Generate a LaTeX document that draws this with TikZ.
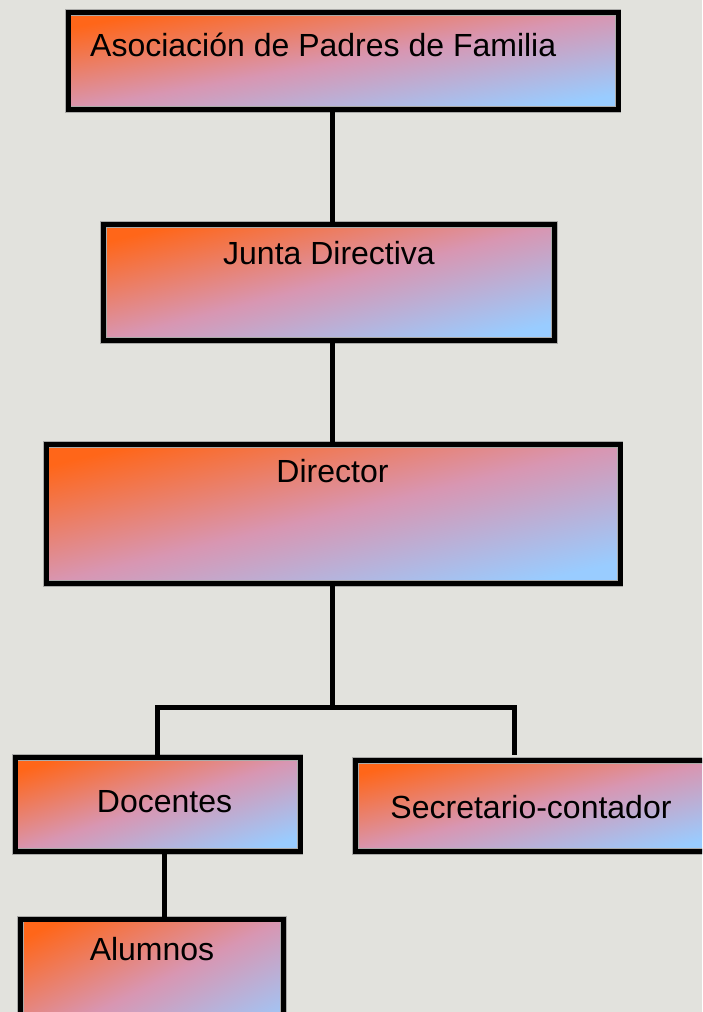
\documentclass[tikz,border=0pt]{standalone}
\usepackage{fontspec}
\setmainfont{Liberation Sans}
\definecolor{bg}{RGB}{226,226,221}
\definecolor{halo}{RGB}{170,170,168}
\definecolor{gorange}{RGB}{255,102,25}
\definecolor{gblue}{RGB}{153,204,255}
\definecolor{gmid}{RGB}{216,150,178}
\newcommand{\gradbox}[5]{%
  \begin{scope}[transform canvas={shift={(#2,#3)}, xscale=#4/2, yscale=#5/2}]
    \clip (-1,-1) rectangle (1,1);
    \shade[gshade] (-1.2,-1.2) rectangle (1.2,1.2);
  \end{scope}
  \node[box, minimum width=#4pt, minimum height=#5pt] (#1) at (#2,#3) {};
}
\begin{document}
\begin{tikzpicture}[x=1pt,y=1pt,
  gshade/.style={top color=gorange, bottom color=gblue, middle color=gmid, shading angle=45},
  box/.style={draw=black, line width=5pt, rectangle, inner sep=0pt,
    preaction={draw=halo, line width=6.5pt}},
  lbl/.style={font=\fontsize{32}{36}\selectfont, anchor=base, inner sep=0pt},
  conn/.style={line width=5pt}]
\fill[bg] (0,0) rectangle (702,1012);
\useasboundingbox (0,0) rectangle (702,1012);
\clip (0,0) rectangle (702,1012);
% boxes
\gradbox{b1}{343}{951}{550}{97}
\gradbox{b2}{329}{729.5}{451}{116}
\gradbox{b3}{333}{498}{574}{139}
\gradbox{b4}{157.5}{207.5}{285}{94}
\gradbox{b5}{536.5}{206}{362}{91}
\gradbox{b6}{152}{27.75}{263}{130}
% connector points
\coordinate (bar) at (332,304);
\coordinate (barL) at (157,304);
\coordinate (barR) at (514,304);
\coordinate (rEnd) at (514,257);
\coordinate (dx) at (164,0);
% connectors
\draw[conn] (b1.south -| bar) -- (b2.north -| bar);
\draw[conn] (b2.south -| bar) -- (b3.north -| bar);
\draw[conn] (b3.south -| bar) -- (bar);
\draw[conn] (b4.north -| barL) -- (barL) -- (barR) -- (rEnd);
\draw[conn] (b4.south -| dx) -- (b6.north -| dx);
% labels
\node[lbl, anchor=base west] (t1) at (90,955) {Asociación de Padres de Familia};
\node[lbl] (t2) at (329,747) {Junta Directiva};
\node[lbl] (t3) at (332.5,529) {Director};
\node[lbl] (t4) at (164.5,199) {Docentes};
\node[lbl] (t5) at (531,193) {Secretario-contador};
\node[lbl] (t6) at (152,51) {Alumnos};
\end{tikzpicture}
\end{document}
